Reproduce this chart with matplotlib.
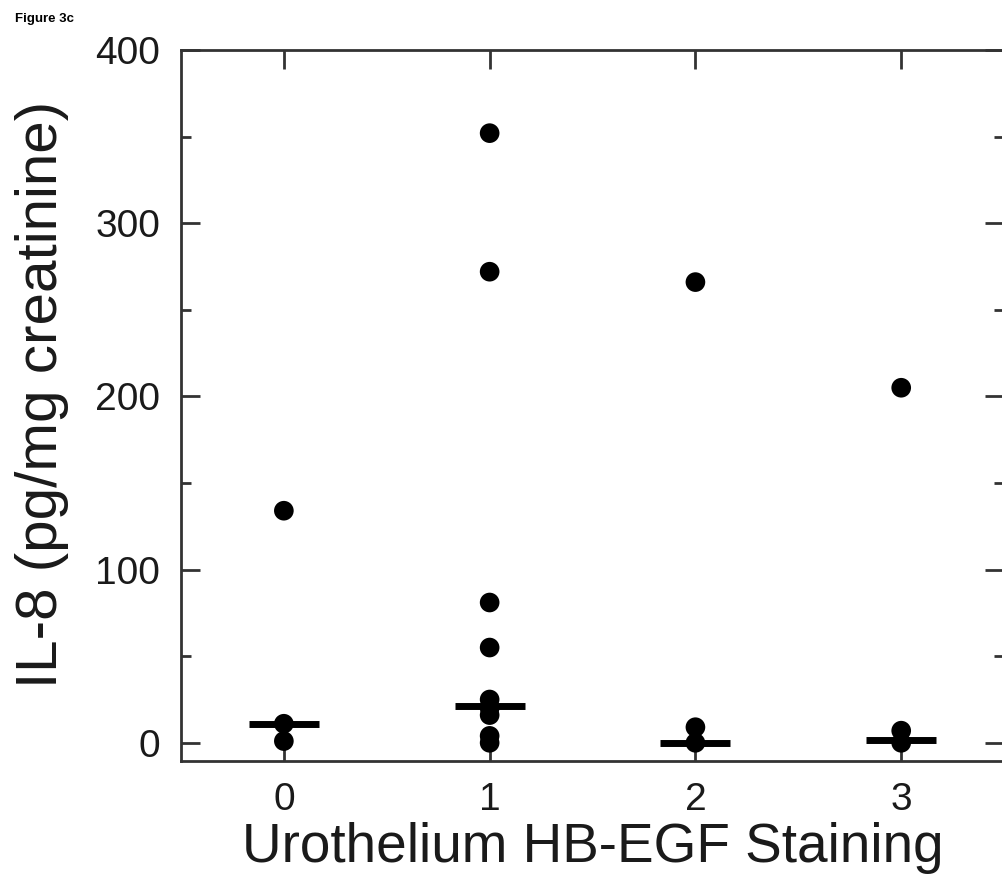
import matplotlib
matplotlib.use("Agg")
import matplotlib.pyplot as plt
import matplotlib.ticker as mticker

plt.rcParams["font.family"] = ["Liberation Sans", "DejaVu Sans"]

# IL-8 per staining grade (pg/mg creatinine)
staining_grades = [0, 1, 2, 3]
il8_grade0 = [134, 11, 1]
il8_grade1 = [352, 272, 81, 55, 25, 20, 16, 4, 0]
il8_grade2 = [266, 9, 0]
il8_grade3 = [205, 7, 0]
il8_medians = [11, 21, 0, 1.5]

AXIS_COLOR = "#333333"
TEXT_COLOR = "#1a1a1a"

fig = plt.figure(figsize=(10.02, 8.76), dpi=100)
ax = fig.add_axes([0.1806, 0.1313, 0.8215, 0.8116])

groups = [il8_grade0, il8_grade1, il8_grade2, il8_grade3]
for grade, vals in zip(staining_grades, groups):
    ax.scatter([grade] * len(vals), vals, s=200, color="black",
               edgecolors="none", zorder=3)

# median bars
half_w = 0.17
for grade, med in zip(staining_grades, il8_medians):
    ax.plot([grade - half_w, grade + half_w], [med, med], color="black",
            linewidth=5, solid_capstyle="butt", zorder=4)

ax.set_xlim(-0.5, 3.5)
ax.set_ylim(-10.5, 400)
ax.set_xticks(staining_grades)
ax.set_yticks([0, 100, 200, 300, 400])
ax.yaxis.set_minor_locator(mticker.MultipleLocator(50))

for side in ax.spines.values():
    side.set_color(AXIS_COLOR)
    side.set_linewidth(2)

ax.tick_params(which="both", direction="in", top=True, right=True,
               color=AXIS_COLOR, width=2)
ax.tick_params(which="major", length=14, labelsize=28, pad=15,
               labelcolor=TEXT_COLOR)
ax.tick_params(which="minor", length=7)
ax.tick_params(axis="x", which="minor", top=False, bottom=False)

ax.set_xlabel("Urothelium HB-EGF Staining", fontsize=39.5, labelpad=3,
              color=TEXT_COLOR)
ax.set_ylabel("IL-8 (pg/mg creatinine)", fontsize=42, labelpad=19,
              color=TEXT_COLOR)
ax.yaxis.label.set_y(0.515)

fig.text(0.015, 0.985, "Figure 3c", fontsize=9.5, fontweight="bold",
         ha="left", va="top")

fig.savefig("out.png", dpi=100, facecolor="white")
